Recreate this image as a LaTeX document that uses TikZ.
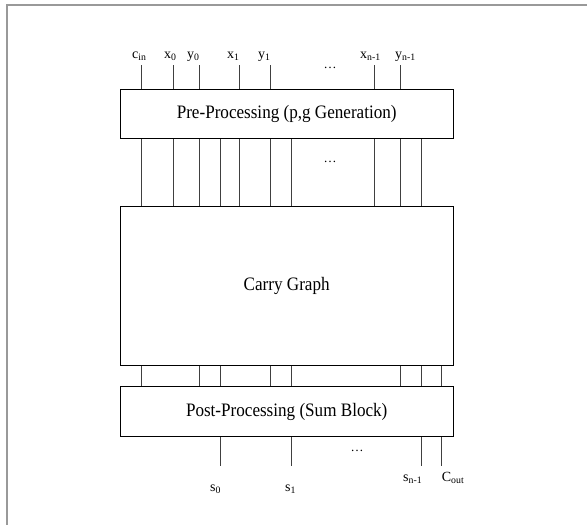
\documentclass[tikz,border=0pt]{standalone}
\usepackage{fontspec}
\setmainfont{Liberation Serif}
\newfontfamily\boxfont[FakeStretch=0.9]{Liberation Serif}
\begin{document}
\begin{tikzpicture}[x=1pt,y=-1pt,
  blk/.style={draw=black, line width=1.1pt, inner sep=0pt, minimum width=333.3pt,
    font=\boxfont\fontsize{19}{19}\selectfont},
  wire/.style={draw=black!75, line width=0.9pt},
  lab/.style={font=\fontsize{14}{14}\selectfont, inner sep=0pt, anchor=base west},
  dotlab/.style={font=\fontsize{13}{13}\selectfont, inner sep=0pt}]
\useasboundingbox (0,0) rectangle (587,525);
\draw[gray!80, line width=2pt] (7.3,525) -- (7.3,5) -- (587,5);

\node[blk, minimum height=49.5pt] (pre) at (286.7,114) {Pre-Processing (p,g Generation)};
\node[blk, minimum height=158.3pt] (carry) at (286.7,285.9) {Carry Graph};
\node[blk, minimum height=50pt] (post) at (286.7,411.7) {Post-Processing (Sum Block)};

% column coordinates
\coordinate (a) at (141.7,65);
\coordinate (b) at (173.3,65);
\coordinate (c) at (199.5,65);
\coordinate (d) at (220,466);
\coordinate (e) at (239.5,65);
\coordinate (f) at (270,65);
\coordinate (g) at (291.7,466);
\coordinate (h) at (374,65);
\coordinate (i) at (400,65);
\coordinate (j) at (421.7,466);
\coordinate (k) at (441.7,466);

% inputs
\foreach \p in {a,b,c,e,f,h,i} \draw[wire] (\p) -- (pre.north -| \p);
% pre -> carry
\foreach \p in {a,b,c,d,e,f,g,h,i,j} \draw[wire] (pre.south -| \p) -- (carry.north -| \p);
% carry -> post
\foreach \p in {a,c,d,f,g,i,j,k} \draw[wire] (carry.south -| \p) -- (post.north -| \p);
% outputs
\foreach \p in {d,g,j,k} \draw[wire] (post.south -| \p) -- (\p);

% labels
\node[lab] (lcin) at (132,58) {c\textsubscript{in}};
\node[lab] (lx0) at (164,58) {x\textsubscript{0}};
\node[lab] (ly0) at (187,58) {y\textsubscript{0}};
\node[lab] (lx1) at (227,58) {x\textsubscript{1}};
\node[lab] (ly1) at (258,58) {y\textsubscript{1}};
\node[lab] (lxn) at (360,58) {x\textsubscript{n-1}};
\node[lab] (lyn) at (395,58) {y\textsubscript{n-1}};

\node[lab] (ls0) at (210,491) {s\textsubscript{0}};
\node[lab] (ls1) at (285,491) {s\textsubscript{1}};
\node[lab] (lsn) at (403,481.5) {s\textsubscript{n-1}};
\node[lab] (lcout) at (441.7,481.5) {C\textsubscript{out}};

\node[dotlab] (d1) at (330,68) {\dots};
\node[dotlab] (d2) at (330,162) {\dots};
\node[dotlab] (d3) at (357,451) {\dots};
\end{tikzpicture}
\end{document}
